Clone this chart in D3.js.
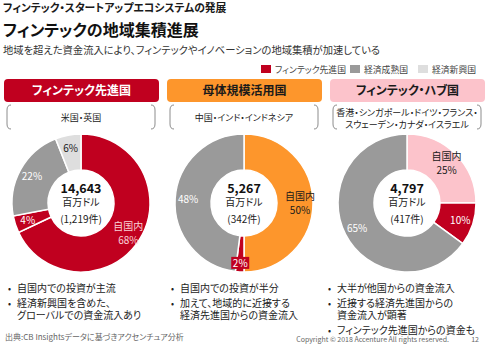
<!DOCTYPE html>
<meta charset="utf-8">
<style>
body { margin: 0; background: #fff; }
svg { font-family: "Noto Sans CJK JP", "Noto Sans", sans-serif; font-feature-settings: "palt"; }
.slice { stroke: #fff; stroke-width: 1.5px; }
.bracket { fill: none; stroke: #8c8c8c; stroke-width: 1px; }
</style>
<svg width="490" height="361"></svg>
<script src="https://cdn.jsdelivr.net/npm/d3@7"></script>
<script>

// data
var groups = ["フィンテック先進国", "母体規模活用国", "フィンテック・ハブ国"];
var regions = [["米国・英国"], ["中国・インド・インドネシア"],
  ["香港・シンガポール・ドイツ・フランス・", "スウェーデン・カナダ・イスラエル"]];
var totals = ["14,643", "5,267", "4,797"];
var deals = ["(1,219件)", "(342件)", "(417件)"];
// share of inflow: 自国内, フィンテック先進国, 経済成熟国, 経済新興国
var shareKinds = ["home", "adv", "mature", "emerging"];
var shares = [[68, 4, 22, 6], [50, 2, 48, 0], [25, 10, 65, 0]];
var legendLabels = ["フィンテック先進国", "経済成熟国", "経済新興国"];
var bullets = [
  [["自国内での投資が主流"], ["経済新興国を含めた、", "グローバルでの資金流入あり"]],
  [["自国内での投資が半分"], ["加えて、地域的に近接する", "経済先進国からの資金流入"]],
  [["大半が他国からの資金流入"], ["近接する経済先進国からの", "資金流入が顕著"], ["フィンテック先進国からの資金も"]]
];

var red = "#c0001f", gray = "#9a9a9a", light = "#dedede";
var headFill = [red, "#fd962c", "#fcc3cb"];
var headText = ["#fff", "#1a1a1a", "#1a1a1a"];

var svg = d3.select("svg");

// titles
svg.append("text").attr("x", 3).attr("y", 12)
  .style("font-size", "10.8px").style("font-weight", "bold").attr("fill", "#1a1a1a")
  .text("フィンテック・スタートアップエコシステムの発展");
svg.append("text").attr("x", 3).attr("y", 36)
  .style("font-size", "16px").style("font-weight", "bold").attr("fill", "#111")
  .text("フィンテックの地域集積進展");
svg.append("text").attr("x", 3).attr("y", 54)
  .style("font-size", "10.3px").attr("fill", "#333")
  .text("地域を超えた資金流入により、フィンテックやイノベーションの地域集積が加速している");

// legend
var legX = [261, 350, 418];
var lg = svg.append("g").selectAll("g").data(legendLabels).join("g")
  .attr("transform", function(d, i) { return "translate(" + legX[i] + ",65)"; });
lg.append("rect").attr("width", 10).attr("height", 8)
  .attr("fill", function(d, i) { return [red, gray, light][i]; });
lg.append("text").attr("x", 14).attr("y", 7.5)
  .style("font-size", "8.8px").attr("fill", "#444").text(function(d) { return d; });

// columns
var colX = d3.scalePoint().domain(d3.range(groups.length)).range([81, 407]);
var headW = 155;

var arc = d3.arc().innerRadius(33).outerRadius(69);
var pie = d3.pie().sort(null).value(function(d) { return d.v; });

groups.forEach(function(name, i) {
  var cx = colX(i);
  var col = svg.append("g");

  // header
  col.append("rect").attr("x", cx - headW / 2 + 0.5).attr("y", 79)
    .attr("width", headW).attr("height", 23).attr("rx", 4)
    .attr("fill", headFill[i]);
  col.append("text").attr("x", cx + 0.5).attr("y", 95).attr("text-anchor", "middle")
    .style("font-size", "12px").style("font-weight", "bold").attr("fill", headText[i])
    .text(name);

  // brackets
  var bl = cx - 74, br = cx + 74, bt = 105, bb = 129;
  col.append("path").attr("class", "bracket")
    .attr("d", "M" + (bl + 4) + "," + bt + " Q" + bl + "," + bt + " " + bl + "," + (bt + 5) +
      " L" + bl + "," + (bb - 5) + " Q" + bl + "," + bb + " " + (bl + 4) + "," + bb);
  col.append("path").attr("class", "bracket")
    .attr("d", "M" + (br - 4) + "," + bt + " Q" + br + "," + bt + " " + br + "," + (bt + 5) +
      " L" + br + "," + (bb - 5) + " Q" + br + "," + bb + " " + (br - 4) + "," + bb);
  var rl = regions[i];
  col.selectAll("text.region").data(rl).join("text").attr("class", "region")
    .attr("x", cx).attr("text-anchor", "middle")
    .attr("y", function(d, k) { return rl.length == 1 ? 120.5 : 116 + k * 11.5; })
    .style("font-size", "9px").attr("fill", "#222").text(function(d) { return d; });

  // donut
  var homeColor = [red, "#fd962c", "#fcc3cb"][i];
  var colors = { home: homeColor, adv: red, mature: gray, emerging: light };
  var data = shares[i].map(function(v, k) { return { v: v, kind: shareKinds[k] }; })
    .filter(function(d) { return d.v > 0; });
  var g = col.append("g").attr("transform", "translate(" + cx + ",203)");
  var arcs = pie(data);
  g.selectAll("path").data(arcs).join("path").attr("class", "slice")
    .attr("d", arc).attr("fill", function(d) { return colors[d.data.kind]; });

  // slice labels
  arcs.forEach(function(a) {
    var lr = a.data.v < 3 ? 60 : 56;
    var m = (a.startAngle + a.endAngle) / 2;
    var x = Math.sin(m) * lr, y = -Math.cos(m) * lr;
    var c;
    if (a.data.kind == "home") c = i == 0 ? "#fad3d8" : "#1a1a1a";
    else if (a.data.kind == "emerging") c = "#1a1a1a";
    else c = "#fff";
    if (a.data.v < 3) {
      g.append("rect").attr("x", x - 9).attr("y", y - 6).attr("width", 18).attr("height", 12)
        .attr("fill", red);
    }
    if (a.data.kind == "home") {
      g.append("text").attr("x", x).attr("y", y - 3).attr("text-anchor", "middle")
        .style("font-size", "10px").attr("fill", c).text("自国内");
      g.append("text").attr("x", x).attr("y", y + 11).attr("text-anchor", "middle")
        .style("font-size", "10px").attr("fill", c).text(a.data.v + "%");
    } else {
      g.append("text").attr("x", x).attr("y", y + 4).attr("text-anchor", "middle")
        .style("font-size", "10px").attr("fill", c).text(a.data.v + "%");
    }
  });

  // center text
  g.append("text").attr("y", -10).attr("text-anchor", "middle")
    .style("font-size", "12.5px").style("font-weight", "bold").attr("fill", "#111").text(totals[i]);
  g.append("text").attr("y", 3).attr("text-anchor", "middle")
    .style("font-size", "10px").attr("fill", "#222").text("百万ドル");
  g.append("text").attr("y", 20).attr("text-anchor", "middle")
    .style("font-size", "10px").attr("fill", "#222").text(deals[i]);

  // bullets
  var tx = [17, 180, 337][i];
  var lineY = 292;
  bullets[i].forEach(function(item) {
    col.append("text").attr("x", tx - 9).attr("y", lineY)
      .style("font-size", "9px").attr("fill", "#222").text("•");
    item.forEach(function(line) {
      col.append("text").attr("x", tx).attr("y", lineY)
        .style("font-size", "10px").attr("fill", "#222").text(line);
      lineY += 11.5;
    });
    lineY += 3.5;
  });
});

// footer
svg.append("text").attr("x", 5).attr("y", 340)
  .style("font-size", "8px").attr("fill", "#666")
  .text("出典:CB Insightsデータに基づきアクセンチュア分析");
svg.append("text").attr("x", 449).attr("y", 342).attr("text-anchor", "end")
  .style("font-size", "7px").attr("fill", "#666")
  .text("Copyright © 2018 Accenture  All rights reserved.");
svg.append("text").attr("x", 479).attr("y", 342).attr("text-anchor", "end")
  .style("font-size", "7px").attr("fill", "#666").text("12");

</script>
